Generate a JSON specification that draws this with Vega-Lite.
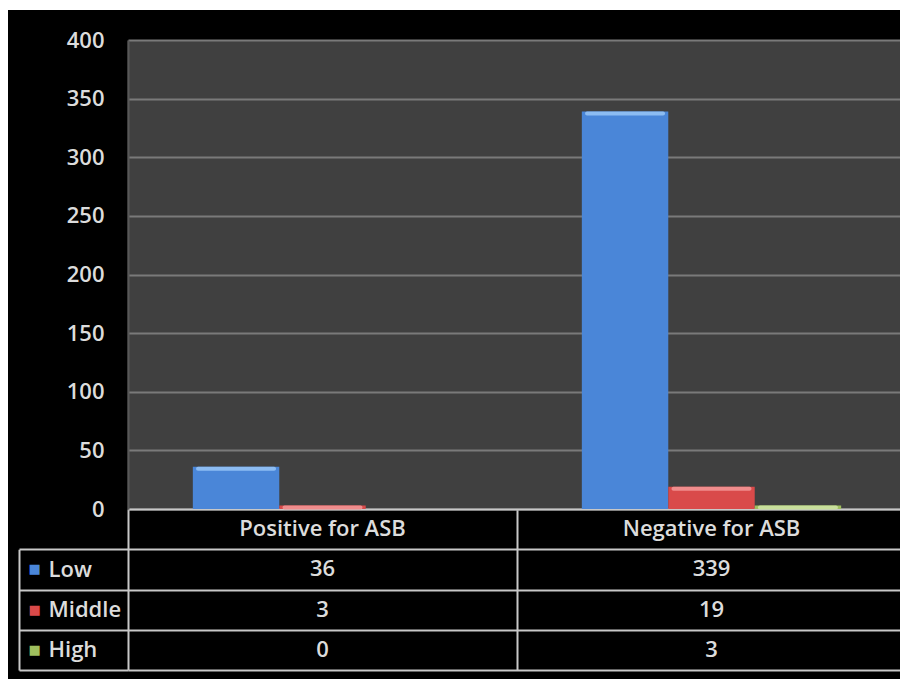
{
  "$schema": "https://vega.github.io/schema/vega-lite/v6.json",
  "width": 892,
  "height": 669,
  "autosize": {"type": "none"},
  "padding": {"left": 8, "top": 10, "right": 0, "bottom": 0},
  "background": "white",
  "config": {
    "view": {"fill": "black", "stroke": null},
    "axis": {"labelFont": "Open Sans", "labelFontSize": 22, "labelFontWeight": 600, "labelColor": "#dcdcdc", "title": null},
    "text": {"font": "Open Sans", "fontSize": 22, "fontWeight": 600, "fill": "#dcdcdc"}
  },
  "data": {
    "values": [
      {"group": "Positive for ASB", "level": "Low", "count": 36},
      {"group": "Positive for ASB", "level": "Middle", "count": 3},
      {"group": "Positive for ASB", "level": "High", "count": 0},
      {"group": "Negative for ASB", "level": "Low", "count": 339},
      {"group": "Negative for ASB", "level": "Middle", "count": 19},
      {"group": "Negative for ASB", "level": "High", "count": 3}
    ]
  },
  "layer": [
    {
      "encoding": {
        "x": {
          "field": "group", "type": "nominal",
          "scale": {"domain": ["Positive for ASB", "Negative for ASB"], "range": [120, 898], "paddingInner": 0, "paddingOuter": 0},
          "axis": {"orient": "top", "grid": true, "tickBand": "center", "gridColor": "#404040", "gridWidth": 390, "gridOpacity": 1, "labels": false, "ticks": false, "domain": false}
        },
        "xOffset": {
          "field": "level", "type": "nominal",
          "scale": {"domain": ["Low", "Middle", "High"], "paddingInner": 0, "paddingOuter": 0.75}
        },
        "y": {
          "field": "count", "type": "quantitative",
          "scale": {"domain": [0, 400], "range": [499, 30], "nice": false},
          "axis": {
            "orient": "left", "offset": -120, "values": [0, 50, 100, 150, 200, 250, 300, 350, 400],
            "grid": true, "gridColor": "#7a7a7a", "gridWidth": 2,
            "ticks": false, "domain": true, "domainColor": "#585858", "domainWidth": 2,
            "labelPadding": 24
          }
        }
      },
      "layer": [
        {
          "mark": {"type": "bar"},
          "encoding": {
            "color": {
              "field": "level", "type": "nominal",
              "scale": {"domain": ["Low", "Middle", "High"], "range": ["#4a86d8", "#d94a4a", "#9fbf5e"]},
              "legend": null
            }
          }
        },
        {
          "transform": [{"filter": "datum.count > 0"}],
          "mark": {"type": "tick", "orient": "horizontal", "thickness": 4, "size": 80, "yOffset": 2, "cornerRadius": 2, "opacity": 1},
          "encoding": {
            "fill": {
              "field": "level", "type": "nominal",
              "scale": {"domain": ["Low", "Middle", "High"], "range": ["#8cbcf2", "#f08c8c", "#c9df9c"]},
              "legend": null
            }
          }
        }
      ]
    },
    {
      "layer": [
        {
          "transform": [{"filter": "datum.level === 'Low'"}],
          "mark": {"type": "text", "baseline": "middle", "align": "center"},
          "encoding": {
            "x": {
              "field": "group", "type": "nominal",
              "scale": {"domain": ["Positive for ASB", "Negative for ASB"], "range": [120, 898], "paddingInner": 0, "paddingOuter": 0},
              "axis": {"orient": "top", "grid": true, "tickBand": "extent", "gridColor": "#c8c8c8", "gridWidth": 2, "labels": false, "ticks": false, "domain": false}
            },
            "y": {
              "datum": "header", "type": "nominal",
              "scale": {"type": "band", "domain": ["header", "Low", "Middle", "High"], "range": [499, 660], "paddingInner": 0, "paddingOuter": 0},
              "axis": {
                "orient": "left", "offset": -120, "tickBand": "extent",
                "ticks": false,
                "grid": true, "gridColor": "#c8c8c8", "gridWidth": 2, "domain": false,
                "labelExpr": "datum.value === 'header' ? '' : datum.value",
                "labelAlign": "left", "labelPadding": 80
              }
            },
            "text": {"field": "group", "type": "nominal"}
          }
        },
        {
          "mark": {"type": "text", "baseline": "middle", "align": "center"},
          "encoding": {
            "x": {
              "field": "group", "type": "nominal",
              "scale": {"domain": ["Positive for ASB", "Negative for ASB"], "range": [120, 898], "paddingInner": 0, "paddingOuter": 0},
              "axis": {"orient": "top", "grid": true, "tickBand": "extent", "gridColor": "#c8c8c8", "gridWidth": 2, "labels": false, "ticks": false, "domain": false}
            },
            "y": {"field": "level", "type": "nominal"},
            "text": {"field": "count", "type": "quantitative"}
          }
        }
      ]
    },
    {
      "layer": [
        {
          "mark": {"type": "point", "opacity": 0},
          "encoding": {
            "y": {
              "field": "level", "type": "nominal",
              "scale": {"type": "band", "domain": ["Low", "Middle", "High"], "range": [539.25, 660], "paddingInner": 0, "paddingOuter": 0},
              "axis": {
                "orient": "left", "offset": -11,
                "domain": true, "domainColor": "#c8c8c8", "domainWidth": 2,
                "ticks": false, "grid": false,
                "labelExpr": "'■'", "labelFont": "DejaVu Sans", "labelFontSize": 13, "labelFontWeight": "normal",
                "labelColor": {"condition": [{"test": "datum.value === 'Low'", "value": "#4a86d8"}, {"test": "datum.value === 'Middle'", "value": "#d94a4a"}], "value": "#9fbf5e"},
                "labelAlign": "left", "labelPadding": -9
              }
            }
          }
        },
        {
          "mark": {"type": "point", "opacity": 0},
          "encoding": {
            "y": {
              "field": "level", "type": "nominal",
              "axis": {
                "orient": "left", "offset": -120, "tickBand": "extent",
                "ticks": true, "tickSize": 109, "tickColor": "#c8c8c8", "tickWidth": 2,
                "domain": false, "grid": false, "labels": false
              }
            }
          }
        }
      ],
      "resolve": {"axis": {"y": "independent"}}
    }
  ],
  "resolve": {"scale": {"y": "independent"}, "axis": {"x": "independent", "y": "independent"}}
}
